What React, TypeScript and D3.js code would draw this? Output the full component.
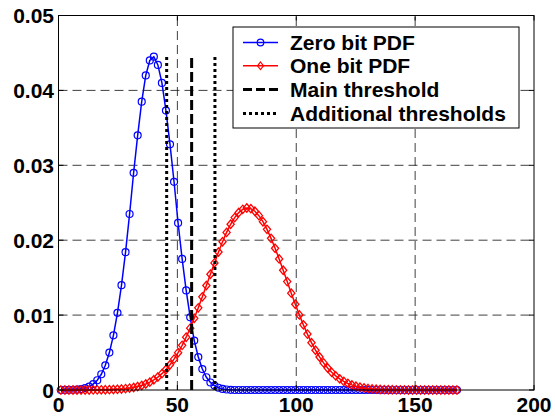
import React from 'react';
import * as d3 from 'd3';

const X_VALUES = [
  1, 2.7, 4.4, 6.1, 7.8, 9.5, 11.2, 12.9, 14.6, 16.3,
  18, 19.7, 21.4, 23.1, 24.8, 26.5, 28.2, 29.9, 31.6, 33.3,
  35, 36.7, 38.4, 40.1, 41.8, 43.5, 45.2, 46.9, 48.6, 50.3,
  52, 53.7, 55.4, 57.1, 58.8, 60.5, 62.2, 63.9, 65.6, 67.3,
  69, 70.7, 72.4, 74.1, 75.8, 77.5, 79.2, 80.9, 82.6, 84.3,
  86, 87.7, 89.4, 91.1, 92.8, 94.5, 96.2, 97.9, 99.6, 101.3,
  103, 104.7, 106.4, 108.1, 109.8, 111.5, 113.2, 114.9, 116.6, 118.3,
  120, 121.7, 123.4, 125.1, 126.8, 128.5, 130.2, 131.9, 133.6, 135.3,
  137, 138.7, 140.4, 142.1, 143.8, 145.5, 147.2, 148.9, 150.6, 152.3,
  154, 155.7, 157.4, 159.1, 160.8, 162.5, 164.2, 165.9, 167.6,
];

const ZERO_BIT_PDF = [
  0, 0.00001, 0.00002, 0.00003, 0.00007, 0.00013, 0.00025, 0.00045, 0.00078, 0.0013,
  0.0021, 0.0033, 0.005, 0.0073, 0.0103, 0.014, 0.0184, 0.0235, 0.029, 0.034,
  0.0385, 0.042, 0.044, 0.0445, 0.0434, 0.041, 0.0373, 0.0328, 0.0278, 0.0223,
  0.0175, 0.0133, 0.0097, 0.0066, 0.0044, 0.0028, 0.0017, 0.001, 0.0006, 0.0003,
  0.00015, 0.00007, 0.00003, 0, 0, 0, 0, 0, 0, 0,
  0, 0, 0, 0, 0, 0, 0, 0, 0, 0,
  0, 0, 0, 0, 0, 0, 0, 0, 0, 0,
  0, 0, 0, 0, 0, 0, 0, 0, 0, 0,
  0, 0, 0, 0, 0, 0, 0, 0, 0, 0,
  0, 0, 0, 0, 0, 0, 0, 0, 0,
];

const ONE_BIT_PDF = [
  0, 0, 0, 0.000001, 0.000002, 0.000003, 0.000004, 0.000006, 0.00001, 0.000015,
  0.000022, 0.000032, 0.000046, 0.000066, 0.000093, 0.00013, 0.00018, 0.00025, 0.00034, 0.00046,
  0.00061, 0.00081, 0.00105, 0.00136, 0.00173, 0.00218, 0.00273, 0.00337, 0.00412, 0.00498,
  0.00596, 0.00705, 0.00826, 0.00957, 0.01097, 0.01244, 0.01395, 0.01546, 0.01697, 0.01842,
  0.01979, 0.02104, 0.02213, 0.02302, 0.02369, 0.02412, 0.0243, 0.02421, 0.02387, 0.02328,
  0.02247, 0.02145, 0.02025, 0.01892, 0.0175, 0.01599, 0.01447, 0.01293, 0.01145, 0.01003,
  0.0087, 0.00746, 0.00632, 0.00531, 0.00441, 0.00362, 0.00294, 0.00236, 0.00188, 0.00148,
  0.00115, 0.00089, 0.00068, 0.00051, 0.00038, 0.00028, 0.0002, 0.00015, 0.00011, 0.00007,
  0.00005, 0.00004, 0.00003, 0.00002, 0.00001, 0.00001, 0, 0, 0, 0,
  0, 0, 0, 0, 0, 0, 0, 0, 0,
];

const X_TICKS = [0, 50, 100, 150, 200];
const Y_TICKS = [0, 0.01, 0.02, 0.03, 0.04, 0.05];
const Y_TICK_LABELS = ['0', '0.01', '0.02', '0.03', '0.04', '0.05'];
const GRID_X = [50, 100, 150];
const GRID_Y = [0.01, 0.02, 0.03, 0.04];
const MAIN_THRESHOLD = 56;
const ADDITIONAL_THRESHOLDS = [45.5, 65.8];
const THRESHOLD_TOP = 0.0445;
const LEGEND_LABELS = ['Zero bit PDF', 'One bit PDF', 'Main threshold', 'Additional thresholds'];

const FONT = '"Liberation Sans", Arial, Helvetica, sans-serif';

export default function App() {
  const W = 555;
  const H = 419;
  const L = 58.5, R = 534, T = 15.5, B = 390;
  const x = d3.scaleLinear().domain([0, 200]).range([L, R]);
  const y = d3.scaleLinear().domain([0, 0.05]).range([B, T]);

  const n0 = Math.min(X_VALUES.length, ZERO_BIT_PDF.length);
  const n1 = Math.min(X_VALUES.length, ONE_BIT_PDF.length);
  const zero: [number, number][] = d3.range(n0).map((i) => [X_VALUES[i], ZERO_BIT_PDF[i]]);
  const one: [number, number][] = d3.range(n1).map((i) => [X_VALUES[i], ONE_BIT_PDF[i]]);

  const line = d3
    .line<[number, number]>()
    .x((d) => x(d[0]))
    .y((d) => y(d[1]));

  const diamond = (cx: number, cy: number, w = 3.6, h = 4.2) =>
    `M${cx},${cy - h}L${cx + w},${cy}L${cx},${cy + h}L${cx - w},${cy}Z`;

  const tickLen = 5;
  const legend = { x0: 233, y0: 27, x1: 519, y1: 128 };
  const rowY = [42.5, 65.8, 89.5, 113.5];
  const sampleX0 = 243, sampleX1 = 278, sampleMid = 260.5, textX = 290;

  return (
    <svg
      width={W}
      height={H}
      style={{ position: 'absolute', left: 0, top: 0, background: '#fff' }}
      xmlns="http://www.w3.org/2000/svg"
    >
      <rect x={0} y={0} width={W} height={H} fill="#fff" />
      {/* grid */}
      <g stroke="#2a2a2a" strokeWidth={0.9} strokeDasharray="9,5" fill="none">
        {GRID_X.map((v) => (
          <line key={'gx' + v} x1={x(v)} x2={x(v)} y1={B} y2={T} />
        ))}
        {GRID_Y.map((v) => (
          <line key={'gy' + v} x1={L} x2={R} y1={y(v)} y2={y(v)} />
        ))}
      </g>

      {/* zero bit pdf */}
      <path d={line(zero) || ''} fill="none" stroke="#0000ff" strokeWidth={1.5} />
      <g fill="none" stroke="#0000ff" strokeWidth={1.2}>
        {zero.map((d, i) => (
          <circle key={'c' + i} cx={x(d[0])} cy={y(d[1])} r={3.5} />
        ))}
      </g>

      {/* one bit pdf */}
      <path d={line(one) || ''} fill="none" stroke="#ff0000" strokeWidth={1.5} />
      <g fill="none" stroke="#ff0000" strokeWidth={1.3}>
        {one.map((d, i) => (
          <path key={'d' + i} d={diamond(x(d[0]), y(d[1]))} />
        ))}
      </g>

      {/* thresholds */}
      <line
        x1={x(MAIN_THRESHOLD)}
        x2={x(MAIN_THRESHOLD)}
        y1={y(0)}
        y2={y(THRESHOLD_TOP)}
        stroke="#000"
        strokeWidth={3}
        strokeDasharray="10,4"
      />
      {ADDITIONAL_THRESHOLDS.map((v) => (
        <line
          key={'at' + v}
          x1={x(v)}
          x2={x(v)}
          y1={y(0)}
          y2={y(THRESHOLD_TOP)}
          stroke="#000"
          strokeWidth={3}
          strokeDasharray="3,3"
        />
      ))}

      {/* axes box and ticks */}
      <rect x={L} y={T} width={R - L} height={B - T} fill="none" stroke="#000" strokeWidth={1} />
      <g stroke="#000" strokeWidth={1}>
        {X_TICKS.map((v) => (
          <g key={'xt' + v}>
            <line x1={x(v)} x2={x(v)} y1={B} y2={B - tickLen} />
            <line x1={x(v)} x2={x(v)} y1={T} y2={T + tickLen} />
          </g>
        ))}
        {Y_TICKS.map((v) => (
          <g key={'yt' + v}>
            <line x1={L} x2={L + tickLen} y1={y(v)} y2={y(v)} />
            <line x1={R} x2={R - tickLen} y1={y(v)} y2={y(v)} />
          </g>
        ))}
      </g>
      <g fontFamily={FONT} fontWeight="bold" fontSize={21} fill="#000">
        {X_TICKS.map((v) => (
          <text key={'xl' + v} x={x(v)} y={412} textAnchor="middle">
            {String(v)}
          </text>
        ))}
        {Y_TICKS.map((v, i) => (
          <text key={'yl' + v} x={54} y={y(v) + 7.5} textAnchor="end">
            {Y_TICK_LABELS[i]}
          </text>
        ))}
      </g>

      {/* legend */}
      <rect
        x={legend.x0}
        y={legend.y0}
        width={legend.x1 - legend.x0}
        height={legend.y1 - legend.y0}
        fill="#fff"
        stroke="#000"
        strokeWidth={1}
      />
      <line x1={sampleX0} x2={sampleX1} y1={rowY[0]} y2={rowY[0]} stroke="#0000ff" strokeWidth={1.5} />
      <circle cx={sampleMid} cy={rowY[0]} r={3.3} fill="none" stroke="#0000ff" strokeWidth={1.2} />
      <line x1={sampleX0} x2={sampleX1} y1={rowY[1]} y2={rowY[1]} stroke="#ff0000" strokeWidth={1.5} />
      <path d={diamond(sampleMid, rowY[1], 3, 3.8)} fill="none" stroke="#ff0000" strokeWidth={1.2} />
      <line
        x1={sampleX0}
        x2={sampleX1}
        y1={rowY[2]}
        y2={rowY[2]}
        stroke="#000"
        strokeWidth={3}
        strokeDasharray="9,4"
      />
      <line
        x1={sampleX0}
        x2={sampleX1}
        y1={rowY[3]}
        y2={rowY[3]}
        stroke="#000"
        strokeWidth={3}
        strokeDasharray="3,3"
      />
      <g fontFamily={FONT} fontWeight="bold" fontSize={21} fill="#000">
        {LEGEND_LABELS.map((t, i) => (
          <text key={'lg' + i} x={textX} y={rowY[i] + 7.5}>
            {t}
          </text>
        ))}
      </g>
    </svg>
  );
}
